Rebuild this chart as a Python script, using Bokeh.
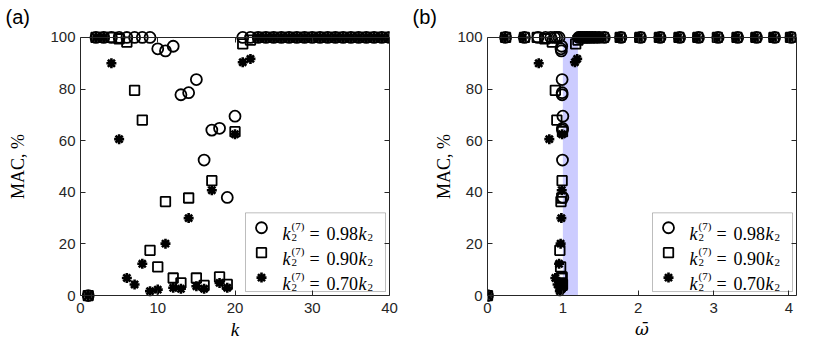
from bokeh.plotting import figure
from bokeh.layouts import row
from bokeh.models import Range1d, LinearAxis, BoxAnnotation, Label, FixedTicker
from bokeh.embed import file_html
from bokeh.resources import INLINE

# ---------------- data ----------------
mode_k = list(range(1, 41))

mac_098 = [0, 100, 100, 100, 100, 100, 100, 100, 100,
           95.6, 94.8, 96.6, 77.8, 78.6, 83.7, 52.5, 64.1, 64.8, 38.0, 69.5,
           100, 100] + [100] * 18
mac_090 = [0, 100, 100, 100, 99.5, 98.2, 79.5, 68.0, 17.5, 11.1, 36.4, 6.8, 4.9,
           37.8, 6.8, 3.9, 44.5, 7.2, 4.3, 63.5, 97.5, 99.0] + [100] * 18
mac_070 = [0, 100, 100, 90.0, 60.6, 6.8, 4.3, 12.3, 1.7, 2.3, 20.1, 3.0, 2.6,
           30.0, 3.6, 2.6, 40.8, 4.9, 3.0, 62.5, 90.4, 91.7] + [100] * 18

w_098 = [0.00, 0.24, 0.49, 0.67, 0.77, 0.84, 0.89, 0.92, 0.95, 0.975, 0.98, 0.985,
         0.99, 0.99, 0.99, 0.995, 0.995, 0.995, 1.0, 1.0,
         1.21, 1.23, 1.26, 1.29, 1.32, 1.35, 1.39, 1.43, 1.48,
         1.55, 1.77, 2.03, 2.29, 2.55, 2.80, 3.06, 3.32, 3.57, 3.81, 4.03]
w_090 = [0.00, 0.24, 0.49, 0.66, 0.76, 0.86, 0.90, 0.92, 0.96, 0.97, 0.975, 0.98,
         0.98, 0.985, 0.985, 0.99, 0.99, 0.99, 0.995, 0.995,
         1.17, 1.20, 1.24, 1.28, 1.31, 1.34, 1.38, 1.42, 1.47,
         1.54, 1.76, 2.02, 2.28, 2.54, 2.79, 3.05, 3.31, 3.56, 3.80, 4.02]
w_070 = [0.00, 0.23, 0.47, 0.68, 0.82, 0.90, 0.93, 0.95, 0.96, 0.965, 0.97, 0.975,
         0.975, 0.98, 0.98, 0.985, 0.985, 0.99, 0.99, 0.99,
         1.16, 1.19, 1.23, 1.27, 1.30, 1.33, 1.37, 1.41, 1.46,
         1.53, 1.75, 2.01, 2.27, 2.53, 2.78, 3.04, 3.30, 3.55, 3.79, 4.01]

y_ticks = [0, 20, 40, 60, 80, 100]
k_ticks = [0, 10, 20, 30, 40]
w_ticks = [0, 1, 2, 3, 4]
k_lim = (0, 40)
w_lim = (0, 4.1)
gap_band = (1.0, 1.2)
legend_values = ["0.98", "0.90", "0.70"]

# ---------------- style ----------------
BOX_W, BOX_H, PAD = 309, 259, 7
AX = "#262626"
TICK_FONT = "Liberation Sans"
SERIF = "Liberation Serif"

STYLES = [
    dict(marker="circle", size=11, fill_color=None, line_color="black", line_width=1.8),
    dict(marker="square", size=9.5, fill_color=None, line_color="black", line_width=1.8),
    dict(marker="asterisk", size=10, line_color="black", line_width=2.6),
]


def mirror_axis(loc, ticks, tick_in, tick_out, bounds=None):
    kw = dict(ticker=FixedTicker(ticks=ticks), major_tick_in=tick_in, major_tick_out=tick_out,
              major_label_text_font_size="1px", major_label_text_color=None,
              major_label_standoff=0, axis_line_color=AX, major_tick_line_color=AX,
              minor_tick_line_color=None)
    if loc is not None:
        kw["fixed_location"] = loc
    if bounds is not None:
        kw["bounds"] = bounds
    return LinearAxis(**kw)


def make_panel(tag, xs_list, xlim, xticks, xlabel, xlab_font, xlab_size, ylab_standoff,
               width, border_right, band=None):
    ypad = PAD * 100.0 / BOX_H
    p = figure(width=width, height=349, output_backend="svg", toolbar_location=None,
               x_range=Range1d(*xlim), y_range=Range1d(-ypad, 100 + ypad),
               min_border_left=80, min_border_right=border_right,
               min_border_top=29, min_border_bottom=47)
    p.outline_line_color = None
    p.xgrid.visible = False
    p.ygrid.visible = False
    p.background_fill_color = "white"
    p.border_fill_color = "white"

    # title
    p.title.text = tag
    p.title.align = "left"
    p.title.offset = -75
    p.title.standoff = 6
    p.title.text_font = TICK_FONT
    p.title.text_font_size = "20px"
    p.title.text_font_style = "normal"
    p.title.text_color = "black"

    # bottom axis: labels only (box line drawn by a fixed-location axis)
    xa = p.xaxis[0]
    xa.ticker = FixedTicker(ticks=xticks)
    xa.axis_line_color = None
    xa.major_tick_line_color = None
    xa.minor_tick_line_color = None
    xa.major_tick_in = 0
    xa.major_tick_out = 0
    xa.major_label_standoff = 0
    xa.major_label_text_font = TICK_FONT
    xa.major_label_text_font_size = "15px"
    xa.major_label_text_color = AX
    xa.axis_label = xlabel
    xa.axis_label_text_font = xlab_font
    xa.axis_label_text_font_style = "italic"
    xa.axis_label_text_font_size = xlab_size
    xa.axis_label_text_color = "black"
    xa.axis_label_standoff = 3

    ya = p.yaxis[0]
    ya.bounds = (0, 100)
    ya.ticker = FixedTicker(ticks=y_ticks)
    ya.axis_line_color = AX
    ya.major_tick_in = 5
    ya.major_tick_out = 0
    ya.major_tick_line_color = AX
    ya.minor_tick_line_color = None
    ya.major_label_text_font = TICK_FONT
    ya.major_label_text_font_size = "15px"
    ya.major_label_text_color = AX
    ya.major_label_standoff = 5
    ya.axis_label = "MAC, %"
    ya.axis_label_text_font = SERIF
    ya.axis_label_text_font_style = "normal"
    ya.axis_label_text_font_size = "18px"
    ya.axis_label_text_color = "black"
    ya.axis_label_standoff = ylab_standoff

    # box lines with inward ticks
    p.add_layout(mirror_axis(100, xticks, 5, 0), "above")
    p.add_layout(mirror_axis(0, xticks, 0, 5), "above")
    p.add_layout(mirror_axis(None, y_ticks, 5, 0, bounds=(0, 100)), "right")

    if band is not None:
        p.add_layout(BoxAnnotation(left=band[0], right=band[1], bottom=0, top=100,
                                   fill_color=(0, 0, 255), fill_alpha=0.2,
                                   line_color=None, level="underlay"))

    for xs, ys, st in zip(xs_list, [mac_098, mac_090, mac_070], STYLES):
        p.scatter(xs, ys, **st)

    # ---- legend (positions in box pixels) ----
    sx = (xlim[1] - xlim[0]) / BOX_W
    sy = 100.0 / BOX_H
    X = lambda px: xlim[0] + px * sx
    Y = lambda py: 100 - py * sy
    bl, br, bt, bb = 165, 305, 176, 255
    p.add_layout(BoxAnnotation(left=X(bl), right=X(br), top=Y(bt), bottom=Y(bb),
                               fill_color="white", fill_alpha=1.0, line_color=AX,
                               line_width=1, level="underlay"))
    for i, (val, st) in enumerate(zip(legend_values, STYLES)):
        cy = 191 + 25 * i
        p.scatter([X(bl + 16)], [Y(cy)], **st)
        pieces = [
            ("k", bl + 37, cy + 6, "18px", "italic"),
            ("2", bl + 46, cy + 10, "11px", "normal"),
            ("(7)", bl + 46, cy - 2, "11px", "normal"),
            ("=", bl + 64, cy + 6, "18px", "normal"),
            (val, bl + 81, cy + 6, "18px", "normal"),
            ("k", bl + 113, cy + 6, "18px", "italic"),
            ("2", bl + 122, cy + 10, "11px", "normal"),
        ]
        for txt, px, py, fs, fst in pieces:
            p.add_layout(Label(x=X(px), y=Y(py), text=txt, text_font=SERIF,
                               text_font_size=fs, text_font_style=fst,
                               text_color="black", text_align="left",
                               text_baseline="alphabetic"))
    return p


p1 = make_panel("(a)", [mode_k, mode_k, mode_k], k_lim, k_ticks, "k", SERIF, "19px",
                19, 407, 18)
p2 = make_panel("(b)", [w_098, w_090, w_070], w_lim, w_ticks, "\u03c9\u0304",
                "DejaVu Serif", "17px", 0, 417, 28, band=gap_band)

layout = row(p1, p2)
open("out.html", "w").write(file_html(layout, INLINE))
